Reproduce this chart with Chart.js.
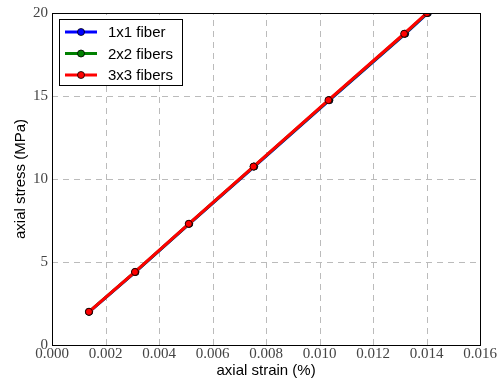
<!DOCTYPE html>
<html>
<head>
<meta charset="utf-8">
<script src="https://cdn.jsdelivr.net/npm/chart.js@4/dist/chart.umd.min.js"></script>
<style>
  html, body { margin: 0; padding: 0; background: #fff; }
  #wrap { width: 497px; height: 380px; position: relative; }
</style>
</head>
<body>
<div id="wrap"><canvas id="c"></canvas></div>
<script>
// strain / stress readings
var strain1 = [0.00139, 0.00312, 0.00513, 0.00756, 0.01037, 0.01320, 0.01405];
var stress1 = [2.0, 4.4, 7.3, 10.75, 14.75, 18.75, 20.0];
var strain2 = [0.00138, 0.00311, 0.00512, 0.00754, 0.01035, 0.01318, 0.01403];
var stress2 = [2.0, 4.4, 7.3, 10.75, 14.75, 18.75, 20.0];
var strain3 = [0.00138, 0.00310, 0.00511, 0.00753, 0.01033, 0.01316, 0.01401];
var stress3 = [2.0, 4.4, 7.3, 10.75, 14.75, 18.75, 20.0];
var seriesNames = ['1x1 fiber', '2x2 fibers', '3x3 fibers'];
var seriesColors = ['#0000ff', '#008000', '#ff0000'];
var xTicks = [0, 0.002, 0.004, 0.006, 0.008, 0.010, 0.012, 0.014, 0.016];
var yTicks = [0, 5, 10, 15, 20];

function pts(xs, ys) {
  return xs.map(function (x, i) { return { x: x, y: ys[i] }; });
}

// red drawn last (on top), like the reference
var datasets = [pts(strain1, stress1), pts(strain2, stress2), pts(strain3, stress3)].map(function (d, i) {
  return {
    label: seriesNames[i],
    data: d,
    order: 3 - i,
    borderColor: seriesColors[i],
    backgroundColor: seriesColors[i],
    borderWidth: 3,
    pointRadius: 3.5,
    pointBorderColor: '#000',
    pointBorderWidth: 0.8,
    pointBackgroundColor: seriesColors[i],
    tension: 0
  };
});

// ── dashed grid, drawn by hand ─────────────────────────────────────────────
var dashedGrid = {
  id: 'dashedGrid',
  beforeDatasetsDraw: function (chart) {
    var a = chart.chartArea, ctx = chart.ctx;
    var sx = chart.scales.x, sy = chart.scales.y;
    ctx.save();
    ctx.strokeStyle = '#bbb';
    ctx.lineWidth = 1;
    ctx.setLineDash([6, 5]);
    xTicks.forEach(function (v) {
      var px = Math.round(sx.getPixelForValue(v)) + 0.5;
      ctx.beginPath(); ctx.moveTo(px, a.bottom); ctx.lineTo(px, a.top); ctx.stroke();
    });
    yTicks.forEach(function (v) {
      var py = Math.round(sy.getPixelForValue(v)) + 0.5;
      ctx.beginPath(); ctx.moveTo(a.left, py); ctx.lineTo(a.right, py); ctx.stroke();
    });
    ctx.restore();
  }
};

// ── legend drawn in canvas, matplotlib style ────────────────────────────────
var legendBox = {
  id: 'legendBox',
  afterDraw: function (chart) {
    var ctx = chart.ctx;
    var x0 = 59.5, y0 = 19.5, w = 123, h = 66;
    ctx.save();
    ctx.fillStyle = '#fff';
    ctx.fillRect(x0, y0, w, h);
    ctx.strokeStyle = '#000';
    ctx.lineWidth = 1;
    ctx.strokeRect(x0, y0, w, h);
    ctx.font = '15px "Liberation Sans", Arial, sans-serif';
    ctx.textBaseline = 'middle';
    seriesNames.forEach(function (name, i) {
      var yy = 32 + i * 21.5;
      ctx.strokeStyle = seriesColors[i];
      ctx.lineWidth = 3;
      ctx.beginPath();
      ctx.moveTo(65, yy);
      ctx.lineTo(97, yy);
      ctx.stroke();
      ctx.beginPath();
      ctx.arc(81, yy, 3.5, 0, Math.PI * 2);
      ctx.fillStyle = seriesColors[i];
      ctx.fill();
      ctx.lineWidth = 0.8;
      ctx.strokeStyle = '#000';
      ctx.stroke();
      ctx.fillStyle = '#000';
      ctx.fillText(name, 108, yy + 1);
    });
    ctx.restore();
  }
};

var frame = {
  id: 'frame',
  afterDatasetsDraw: function (chart) {
    var a = chart.chartArea, ctx = chart.ctx;
    ctx.save();
    ctx.strokeStyle = '#000';
    ctx.lineWidth = 1;
    ctx.strokeRect(Math.round(a.left) + 0.5, Math.round(a.top) + 0.5,
      Math.round(a.right - a.left), Math.round(a.bottom - a.top));
    ctx.restore();
  }
};

var tickFont = { family: '"Liberation Serif", "DejaVu Serif", serif', size: 15 };
var titleFont = { family: '"Liberation Sans", Arial, sans-serif', size: 15 };

new Chart(document.getElementById('c'), {
  type: 'line',
  data: { datasets: datasets },
  plugins: [dashedGrid, frame, legendBox],
  options: {
    responsive: true,
    maintainAspectRatio: false,
    animation: false,
    layout: { padding: { left: 0, right: 16, top: 12, bottom: 0 } },
    plugins: { legend: { display: false }, tooltip: { enabled: false } },
    scales: {
      x: {
        type: 'linear',
        min: 0, max: 0.016,
        afterBuildTicks: function (s) { s.ticks = xTicks.map(function (v) { return { value: v }; }); },
        afterFit: function (s) { s.height = 35; },
        ticks: {
          color: '#444', font: tickFont, padding: 0, maxRotation: 0,
          callback: function (v) { return v.toFixed(3); }
        },
        title: { display: true, text: 'axial strain (%)', color: '#000', padding: 0, font: titleFont },
        grid: { display: false, drawTicks: false },
        border: { display: false }
      },
      y: {
        type: 'linear',
        min: 0, max: 20,
        afterBuildTicks: function (s) { s.ticks = yTicks.map(function (v) { return { value: v }; }); },
        afterFit: function (s) { s.width = 52; },
        ticks: { color: '#444', font: tickFont, padding: 4 },
        title: { display: true, text: 'axial stress (MPa)', color: '#000',
          padding: { top: 12, bottom: 0 }, font: titleFont },
        grid: { display: false, drawTicks: false },
        border: { display: false }
      }
    }
  }
});
</script>
</body>
</html>
